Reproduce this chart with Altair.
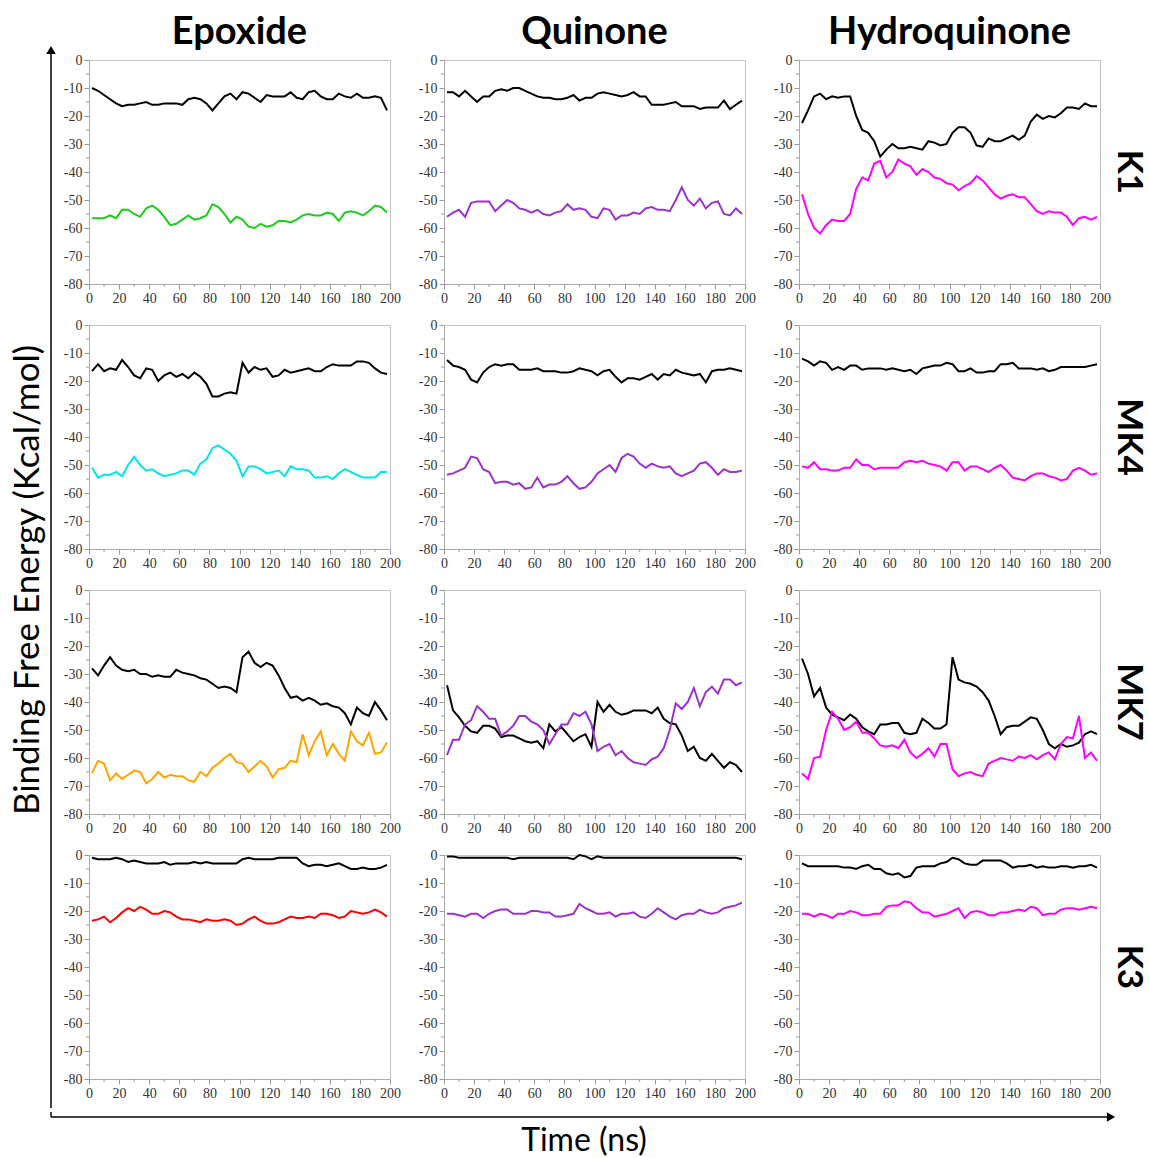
import altair as alt
import pandas as pd

TIME = [2, 6, 10, 14, 18, 22, 26, 30, 34, 38,
        42, 46, 50, 54, 58, 62, 66, 70, 74, 78,
        82, 86, 90, 94, 98, 102, 106, 110, 114, 118,
        122, 126, 130, 134, 138, 142, 146, 150, 154, 158,
        162, 166, 170, 174, 178, 182, 186, 190, 194, 198]

LIGANDS = ["Epoxide", "Quinone", "Hydroquinone"]
VITAMINS = ["K1", "MK4", "MK7", "K3"]
X_TICKS = [0, 20, 40, 60, 80, 100, 120, 140, 160, 180, 200]
Y_TICKS = [-80, -70, -60, -50, -40, -30, -20, -10, 0]
X_MINOR = [10, 30, 50, 70, 90, 110, 130, 150, 170, 190]
Y_MINOR = [-75, -65, -55, -45, -35, -25, -15, -5]
Y_TITLE = "Binding Free Energy (Kcal/mol)"
X_TITLE = "Time (ns)"

GREEN = "#1ccc1c"
PURPLE = "#9933cc"
MAGENTA = "#ff00ff"
CYAN = "#00e5ee"
ORANGE = "#ffa500"
RED = "#ff0000"

# ---- K1 ----
EPOX_K1_BLACK = [-10, -11, -12.5, -14, -15.5, -16.5, -16, -16, -15.5, -15,
                 -16, -16, -15.5, -15.5, -15.5, -16, -14, -13.5, -14, -15.5,
                 -18, -15.5, -13, -12, -14, -11.5, -12, -13.5, -15, -12.5,
                 -13, -13, -13, -11.5, -13.5, -14, -11.5, -11, -13, -14,
                 -14, -12, -13, -13.5, -12, -13.5, -13.5, -13, -13.5, -18]
EPOX_K1_COL = [-56.5, -56.5, -56.5, -55.5, -56.5, -53.5, -53.5, -55, -56, -53,
               -52, -53.5, -56, -59, -58.5, -57, -55.5, -57, -56.5, -55.5,
               -51.5, -52.5, -55, -58, -56, -57, -59.5, -60, -58.5, -59.5,
               -59, -57.5, -57.5, -58, -57, -55.5, -55, -55.5, -55.5, -54.5,
               -55, -57.5, -54.5, -54, -54.5, -55.5, -54, -52, -52.5, -54.5]
QUIN_K1_BLACK = [-11.5, -11.5, -13, -11, -13, -15, -13, -13, -11, -10.5,
                 -11, -10, -10, -11, -12, -13, -13.5, -13.5, -14, -14,
                 -13.5, -12.5, -14.5, -13.5, -13.5, -12, -11.5, -12, -12.5, -13,
                 -12.5, -11.5, -13, -13, -16, -16, -16, -15.5, -15, -16.5,
                 -16.5, -16.5, -17.5, -17, -17, -17, -14.5, -17.5, -16, -14.5]
QUIN_K1_COL = [-56, -54.5, -53.5, -56, -51, -50.5, -50.5, -50.5, -54, -52,
               -50, -51, -53, -53.5, -54.5, -53.5, -55, -55.5, -54.5, -54,
               -51.5, -53.5, -53, -53.5, -56, -56.5, -53, -53.5, -57, -55.5,
               -55.5, -54.5, -55, -53, -52.5, -53.5, -53.5, -54, -50, -45.5,
               -50, -52, -49.5, -53, -51, -50.5, -55, -55.5, -53, -55]
HYD_K1_BLACK = [-22.5, -18, -13, -12, -14, -13, -13.5, -13, -13, -20,
                -25, -26, -29, -34.5, -32, -30, -31.5, -31.5, -31, -31.5,
                -32, -29, -29.5, -30.5, -30, -26, -24, -24, -26, -30.5,
                -31, -28, -29, -29, -28, -27, -28.5, -27, -22, -19.5,
                -21, -20, -20.5, -19, -17, -17, -17.5, -15.5, -16.5, -16.5]
HYD_K1_COL = [-48, -55, -60, -62, -59, -57, -57.5, -57.5, -55, -46,
              -42, -43, -37, -36, -42, -40, -35.5, -37, -38, -41,
              -39, -40, -42, -42.5, -44, -44.5, -46.5, -45, -44, -41.5,
              -43, -45.5, -48, -49.5, -48.5, -48, -49, -49, -51.5, -54,
              -55, -54, -54.5, -54.5, -56, -59, -56.5, -56, -57, -56]

# ---- MK4 ----
EPOX_MK4_BLACK = [-16.5, -14, -16.5, -15.5, -16, -12.5, -15, -18, -19, -15.5,
                  -16, -20, -18, -17, -18.5, -17.5, -19, -17, -18.5, -21,
                  -25.5, -25.5, -24.5, -24, -24.5, -13.5, -17, -15, -16, -15.5,
                  -18.5, -18, -16, -17, -16.5, -16, -15.5, -16.5, -16.5, -15,
                  -14, -14.5, -14.5, -14.5, -13, -13, -13.5, -15.5, -17, -17.5]
EPOX_MK4_COL = [-51, -54.5, -53.5, -53.5, -52.5, -54, -50, -47, -50, -52,
                -51.5, -53, -54, -53.5, -53, -52, -52, -53.5, -49.5, -48,
                -44, -43, -44.5, -46, -48.5, -54, -50.5, -50.5, -51.5, -53,
                -52.5, -52, -54, -50.5, -51.5, -51.5, -52, -54.5, -54.5, -54,
                -55, -53, -51.5, -52.5, -53.5, -54.5, -54.5, -54.5, -52.5, -52.5]
QUIN_MK4_BLACK = [-12.5, -14.5, -15, -16, -19.5, -20.5, -17, -15, -14, -14.5,
                  -14, -14, -16, -16, -16, -15.5, -16.5, -16.5, -16.5, -17,
                  -17, -16.5, -15.5, -16, -16.5, -18, -16.5, -16, -18.5, -20.5,
                  -19, -19, -19.5, -18.5, -17.5, -19.5, -17.5, -18, -16, -17,
                  -17.5, -18, -17.5, -20.5, -16.5, -16, -16, -15.5, -16, -16.5]
QUIN_MK4_COL = [-53.5, -53, -52, -51, -47, -47.5, -51.5, -52.5, -56.5, -56,
                -56, -57, -56.5, -58.5, -58, -54.5, -58, -57, -57, -56,
                -54, -56.5, -58.5, -58, -56, -53, -51.5, -50, -52.5, -47.5,
                -46, -47, -49.5, -51, -49.5, -50.5, -51, -50.5, -53, -54,
                -53, -52, -49.5, -49, -51, -53.5, -51.5, -52.5, -52.5, -52]
HYD_MK4_BLACK = [-12, -13, -14.5, -13, -13.5, -16, -15, -16, -14.5, -14.5,
                 -16, -15.5, -15.5, -15.5, -16, -15.5, -16, -16.5, -16, -17.5,
                 -15.5, -15, -14.5, -14.5, -13.5, -14, -16.5, -16.5, -15.5, -17,
                 -17, -16.5, -16.5, -14, -14, -13.5, -15.5, -15.5, -15.5, -16,
                 -15.5, -16.5, -16, -15, -15, -15, -15, -15, -14.5, -14]
HYD_MK4_COL = [-50.5, -51, -49, -51.5, -51.5, -52, -52, -51, -51, -48,
               -50, -50, -51.5, -51, -51, -51, -51, -49, -48.5, -49,
               -48.5, -49.5, -50, -50.5, -52, -49, -49, -52, -50.5, -50.5,
               -51.5, -52.5, -51, -50, -52, -54.5, -55, -55.5, -54, -53,
               -53, -54, -54.5, -55.5, -55, -52, -51, -52, -53.5, -53]

# ---- MK7 ----
EPOX_MK7_BLACK = [-28, -30.5, -27, -24, -27, -28.5, -29, -28.5, -30, -30,
                  -31, -30.5, -31, -31, -28.5, -29.5, -30, -30.5, -31.5, -32,
                  -33.5, -35, -34.5, -35, -36.5, -24, -22, -26, -27.5, -26,
                  -27, -30.5, -35, -38.5, -38, -39.5, -38.5, -39.5, -41, -40.5,
                  -41.5, -42, -44, -48, -42, -44, -45, -40, -43, -46.5]
EPOX_MK7_COL = [-65.5, -61, -62, -68, -65.5, -67.5, -66, -64.5, -65, -69,
                -67.5, -65, -67, -66, -66.5, -66.5, -68, -68.5, -65, -66.5,
                -63.5, -62, -60, -58.5, -61.5, -62, -65, -63, -61, -63,
                -67, -64, -63.5, -61, -61.5, -51.5, -59, -54, -50.5, -59,
                -55, -58.5, -61, -50.5, -54, -55.5, -51, -58.5, -58, -54.5]
QUIN_MK7_BLACK = [-34, -43, -45.5, -48.5, -50.5, -51, -48.5, -48.5, -49.5, -52.5,
                  -52, -52, -53, -54, -54.5, -54, -56.5, -48, -50.5, -49,
                  -51.5, -54, -52.5, -51.5, -56, -40, -43.5, -41, -43.5, -44.5,
                  -44, -43, -43, -43, -44, -42, -46, -47.5, -48, -52,
                  -57.5, -56, -60, -61, -58.5, -61, -63.5, -61.5, -62.5, -65]
QUIN_MK7_COL = [-59, -53.5, -53.5, -48, -46.5, -41.5, -43.5, -46, -46, -52,
                -50.5, -48.5, -45, -45, -47, -48, -50, -55, -51.5, -48,
                -48, -44, -45, -43.5, -48, -57.5, -56, -55, -59, -57.5,
                -60, -61.5, -62, -62.5, -60.5, -59.5, -56.5, -50, -40.5, -42.5,
                -40, -35, -41.5, -36.5, -34.5, -37, -32, -32, -34, -33]
HYD_MK7_BLACK = [-24.5, -30, -38, -35, -42, -44.5, -45.5, -46.5, -44.5, -46,
                 -49, -50.5, -51.5, -48, -48, -47.5, -47.5, -51, -51.5, -51,
                 -46, -47.5, -49.5, -49.5, -48, -24, -32, -33, -33.5, -34.5,
                 -36.5, -39.5, -45, -51.5, -49, -48.5, -48.5, -47, -45.5, -46,
                 -50, -55, -56.5, -55, -56, -55.5, -54.5, -51.5, -50.5, -51.5]
HYD_MK7_COL = [-65.5, -67.5, -60, -59.5, -50, -43.5, -46, -50, -49, -47,
               -51, -51, -53, -55.5, -56, -55.5, -56.5, -53.5, -58, -60,
               -58.5, -56.5, -59.5, -55, -55, -64, -66.5, -65.5, -65, -66,
               -66.5, -62, -61, -60, -60.5, -61, -59.5, -60, -59, -60.5,
               -59, -58, -60.5, -55, -52.5, -53, -45, -60, -58, -61]

# ---- K3 ----
EPOX_K3_BLACK = [-1, -1.5, -1.5, -1.5, -1, -1.5, -2.5, -2, -2.5, -3,
                 -3, -3, -2.5, -3.5, -3, -3, -3, -2.5, -3, -2.5,
                 -3, -3, -3, -3, -3, -1.5, -1, -1.5, -1.5, -1.5,
                 -1.5, -1, -1, -1, -1, -3, -4, -3.5, -3.5, -4,
                 -3.5, -3, -4, -5, -5, -4.5, -5, -5, -4.5, -3.5]
EPOX_K3_COL = [-23.5, -23, -22, -24, -22.5, -20.5, -19, -20, -18.5, -19.5,
               -21, -21, -20, -20.5, -22, -23, -23, -23.5, -24, -23,
               -23.5, -23.5, -23, -23.5, -25, -24.5, -23, -22, -23.5, -24.5,
               -24.5, -24, -23, -22, -22.5, -22.5, -22, -22.5, -21, -21,
               -21.5, -22.5, -22, -20, -20.5, -21, -20.5, -19.5, -20.5, -22]
QUIN_K3_BLACK = [-0.5, -0.5, -1, -1, -1, -1, -1, -1, -1, -1,
                 -1, -1.5, -1, -1, -1, -1, -1, -1, -1, -1,
                 -1, -1.5, 0, -0.5, -1.5, -0.5, -1, -1, -1, -1,
                 -1, -1, -1, -1, -1, -1, -1, -1, -1, -1,
                 -1, -1, -1, -1, -1, -1, -1, -1, -1, -1.5]
QUIN_K3_COL = [-21, -21, -21.5, -22, -21, -21, -22.5, -21, -20, -19.5,
               -19.5, -21, -21, -21, -20, -20, -20.5, -20.5, -22, -22,
               -21.5, -21, -17.5, -19, -20, -21, -21, -20.5, -22, -21,
               -21, -20.5, -22, -22.5, -21, -19, -20.5, -22, -23, -21.5,
               -21, -21, -19.5, -20.5, -21, -20.5, -19, -18.5, -18, -17]
HYD_K3_BLACK = [-3, -4, -4, -4, -4, -4, -4, -4.5, -4.5, -5,
                -4, -3.5, -5, -5, -6.5, -7, -6.5, -8, -7.5, -4.5,
                -4, -4, -4, -3, -2.5, -1, -1.5, -3, -3.5, -3.5,
                -2, -2, -2, -2, -3, -4.5, -4, -4, -3.5, -4.5,
                -4, -4.5, -4.5, -4, -4, -4.5, -4, -4, -3.5, -4.5]
HYD_K3_COL = [-21, -21, -22, -21, -21.5, -22.5, -21, -21, -20, -20.5,
              -21.5, -21.5, -21, -21, -18.5, -18, -18, -16.5, -17, -19,
              -20.5, -20.5, -22, -21.5, -21, -20, -19, -22.5, -20.5, -20,
              -20.5, -21.5, -21.5, -20.5, -20.5, -20, -19.5, -20, -18.5, -19,
              -21.5, -21, -21, -19.5, -19, -19, -19.5, -19, -18.5, -19]

PANELS = [
    ("K1", "Epoxide", EPOX_K1_BLACK, EPOX_K1_COL, GREEN),
    ("K1", "Quinone", QUIN_K1_BLACK, QUIN_K1_COL, PURPLE),
    ("K1", "Hydroquinone", HYD_K1_BLACK, HYD_K1_COL, MAGENTA),
    ("MK4", "Epoxide", EPOX_MK4_BLACK, EPOX_MK4_COL, CYAN),
    ("MK4", "Quinone", QUIN_MK4_BLACK, QUIN_MK4_COL, PURPLE),
    ("MK4", "Hydroquinone", HYD_MK4_BLACK, HYD_MK4_COL, MAGENTA),
    ("MK7", "Epoxide", EPOX_MK7_BLACK, EPOX_MK7_COL, ORANGE),
    ("MK7", "Quinone", QUIN_MK7_BLACK, QUIN_MK7_COL, PURPLE),
    ("MK7", "Hydroquinone", HYD_MK7_BLACK, HYD_MK7_COL, MAGENTA),
    ("K3", "Epoxide", EPOX_K3_BLACK, EPOX_K3_COL, RED),
    ("K3", "Quinone", QUIN_K3_BLACK, QUIN_K3_COL, PURPLE),
    ("K3", "Hydroquinone", HYD_K3_BLACK, HYD_K3_COL, MAGENTA),
]

rows = []
for vit, lig, blk, col, c in PANELS:
    assert len(blk) == len(TIME), (vit, lig, "black", len(blk))
    assert len(col) == len(TIME), (vit, lig, "col", len(col))
    for t, v in zip(TIME, blk):
        rows.append({"kind": "line", "vitamin": vit, "ligand": lig, "series": "a_black",
                     "color": "#000000", "time": t, "energy": v})
    for t, v in zip(TIME, col):
        rows.append({"kind": "line", "vitamin": vit, "ligand": lig, "series": "b_col",
                     "color": c, "time": t, "energy": v})
    for v in Y_MINOR:
        rows.append({"kind": "ytick", "vitamin": vit, "ligand": lig, "series": "tick",
                     "color": "#999999", "time": None, "energy": v})
    for t in X_MINOR:
        rows.append({"kind": "xtick", "vitamin": vit, "ligand": lig, "series": "tick",
                     "color": "#999999", "time": t, "energy": None})
df = pd.DataFrame(rows)

W, H = 301, 224
XS = alt.Scale(domain=[0, 200], nice=False)
YS = alt.Scale(domain=[-80, 0], nice=False)
SERIF = "Liberation Serif, Times New Roman, DejaVu Serif, serif"
AX = dict(title=None, labelFont=SERIF, labelFontSize=14, labelColor="#333333",
          tickColor="#999999", domainColor="#aaaaaa", tickSize=5, labelPadding=2,
          grid=False, labelOverlap=False, labelFlush=False,
          labelExpr="toString(datum.value)")
X_AXIS = alt.Axis(values=X_TICKS, **AX)
Y_AXIS = alt.Axis(values=Y_TICKS, **AX)

lines = alt.Chart().mark_line(strokeWidth=2).encode(
    x=alt.X("time:Q", scale=XS, axis=X_AXIS),
    y=alt.Y("energy:Q", scale=YS, axis=Y_AXIS),
    color=alt.Color("color:N", scale=None),
    detail="series:N",
).transform_filter(alt.datum.kind == "line")

yminor = alt.Chart().mark_rule(color="#999999", strokeWidth=1).encode(
    y=alt.Y("energy:Q", scale=YS, axis=Y_AXIS),
    x=alt.value(-3), x2=alt.value(0),
).transform_filter(alt.datum.kind == "ytick")

xminor = alt.Chart().mark_rule(color="#999999", strokeWidth=1).encode(
    x=alt.X("time:Q", scale=XS, axis=X_AXIS),
    y=alt.value(H), y2=alt.value(H + 3),
).transform_filter(alt.datum.kind == "xtick")

panel = alt.layer(lines, yminor, xminor).properties(width=W, height=H)

grid = panel.facet(
    data=df,
    column=alt.Column("ligand:N", sort=LIGANDS,
                      header=alt.Header(title=None, labelFont="Lato", labelFontSize=38,
                                        labelFontWeight="bold", labelColor="black", labelPadding=0)),
    row=alt.Row("vitamin:N", sort=VITAMINS,
                header=alt.Header(title=None, labelOrient="right", labelFont="Lato", labelFontSize=35,
                                  labelFontWeight="bold", labelColor="black", labelPadding=0)),
    spacing={"row": 11, "column": 16},
).resolve_axis(x="independent", y="independent")

OFF = 60          # vertical offset of the left strip below the page top
LEFT_H = 1048
one = pd.DataFrame({"a": [0]})
ytitle = alt.Chart(pd.DataFrame({"label": [Y_TITLE]})).mark_text(
    angle=270, font="Lato", fontSize=35, color="black"
).encode(text="label:N", x=alt.value(27), y=alt.value(580 - OFF))
vline = alt.Chart(one).mark_rule(color="black", strokeWidth=1.5).encode(
    x=alt.value(50), y=alt.value(50 - OFF), y2=alt.value(LEFT_H))
vhead = alt.Chart(one).mark_point(shape="triangle-up", filled=True, color="black", size=90, opacity=1).encode(
    x=alt.value(50), y=alt.value(50 - OFF))
left = alt.layer(ytitle, vline, vhead).properties(
    width=54, height=LEFT_H, view=alt.ViewBackground(stroke="transparent"))

vjoin = alt.Chart(one).mark_rule(color="black", strokeWidth=1.5).encode(
    x=alt.value(50), y=alt.value(0), y2=alt.value(5))
hline = alt.Chart(one).mark_rule(color="black", strokeWidth=1.5).encode(
    x=alt.value(50), x2=alt.value(1110), y=alt.value(5))
hhead = alt.Chart(one).mark_point(shape="triangle-right", filled=True, color="black", size=90, opacity=1).encode(
    x=alt.value(1110), y=alt.value(5))
xtitle = alt.Chart(pd.DataFrame({"label": [X_TITLE]})).mark_text(
    font="Lato", fontSize=32, color="black"
).encode(text="label:N", x=alt.value(583), y=alt.value(29))
bottom = alt.layer(vjoin, hline, hhead, xtitle).properties(
    width=1130, height=40, view=alt.ViewBackground(stroke="transparent"))

chart = alt.vconcat(
    alt.hconcat(left, grid, spacing=5),
    bottom,
    spacing=0,
).properties(padding={"top": 14, "left": 0, "right": 0, "bottom": 0},
             background="white").configure_view(stroke="#c4c4c4")

chart.save("out.html", embed_options={"renderer": "svg", "actions": False})
